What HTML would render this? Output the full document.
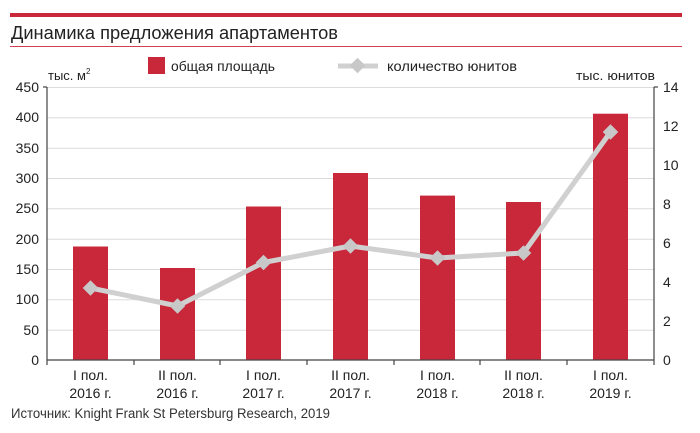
<!DOCTYPE html>
<html><head><meta charset="utf-8"><style>
body{margin:0;background:#fff;width:700px;height:428px;overflow:hidden;font-family:"Liberation Sans","DejaVu Sans",sans-serif;}
</style></head><body>
<svg width="700" height="428" xmlns="http://www.w3.org/2000/svg" font-family="Liberation Sans, DejaVu Sans, sans-serif">
<rect x="10" y="13" width="672" height="4" fill="#c8283a"/>
<text x="11" y="39" font-size="18.5" fill="#222" textLength="327" lengthAdjust="spacingAndGlyphs">Динамика предложения апартаментов</text>
<rect x="10" y="46" width="672" height="1" fill="#d04050"/>
<rect x="148" y="57" width="17" height="17" fill="#c8283a"/>
<text x="171" y="71" font-size="14" fill="#222" textLength="104" lengthAdjust="spacingAndGlyphs">общая площадь</text>
<line x1="338" y1="66" x2="378" y2="66" stroke="#d0d0d0" stroke-width="5"/>
<rect x="352" y="60" width="11" height="11" fill="#c8c8c8" transform="rotate(45 357.5 65.5)"/>
<text x="387" y="71" font-size="14" fill="#222" textLength="130" lengthAdjust="spacingAndGlyphs">количество юнитов</text>
<text x="48" y="80" font-size="13" fill="#222">тыс. м<tspan font-size="8" dy="-6">2</tspan></text>
<text x="576" y="80" font-size="13" fill="#222" textLength="79" lengthAdjust="spacingAndGlyphs">тыс. юнитов</text>
<g stroke="#dcdcdc" stroke-width="1">
<line x1="47" y1="87.5" x2="654" y2="87.5"/><line x1="47" y1="117.8" x2="654" y2="117.8"/><line x1="47" y1="148.2" x2="654" y2="148.2"/><line x1="47" y1="178.5" x2="654" y2="178.5"/><line x1="47" y1="208.8" x2="654" y2="208.8"/><line x1="47" y1="239.2" x2="654" y2="239.2"/><line x1="47" y1="269.5" x2="654" y2="269.5"/><line x1="47" y1="299.8" x2="654" y2="299.8"/><line x1="47" y1="330.2" x2="654" y2="330.2"/>
</g>
<g fill="#c8283a">
<rect x="73" y="246.5" width="35" height="113.5"/>
<rect x="160" y="268" width="35" height="92"/>
<rect x="246" y="206.5" width="35" height="153.5"/>
<rect x="333" y="173" width="35" height="187"/>
<rect x="420" y="195.6" width="35" height="164.4"/>
<rect x="506" y="202" width="35" height="158"/>
<rect x="593" y="113.7" width="35" height="246.3"/>
</g>
<g stroke="#444" stroke-width="1.2" fill="none">
<line x1="47" y1="87" x2="47" y2="360"/><line x1="654" y1="87" x2="654" y2="360"/>
<line x1="47" y1="360" x2="654" y2="360"/>
<line x1="43" y1="87" x2="47" y2="87"/><line x1="654" y1="87" x2="658" y2="87"/>
<line x1="47" y1="360" x2="47" y2="365"/><line x1="134" y1="360" x2="134" y2="365"/><line x1="220" y1="360" x2="220" y2="365"/><line x1="307" y1="360" x2="307" y2="365"/><line x1="394" y1="360" x2="394" y2="365"/><line x1="480" y1="360" x2="480" y2="365"/><line x1="567" y1="360" x2="567" y2="365"/><line x1="654" y1="360" x2="654" y2="365"/>
</g>
<polyline points="90.5,288 177.5,306 263.5,262.5 350.5,246 437.5,258 523.5,253 610.5,132" fill="none" stroke="#d0d0d0" stroke-width="5" stroke-linejoin="round"/>
<g fill="#c8c8c8">
<rect x="85" y="282.5" width="11" height="11" transform="rotate(45 90.5 288)"/>
<rect x="172" y="300.5" width="11" height="11" transform="rotate(45 177.5 306)"/>
<rect x="258" y="257" width="11" height="11" transform="rotate(45 263.5 262.5)"/>
<rect x="345" y="240.5" width="11" height="11" transform="rotate(45 350.5 246)"/>
<rect x="432" y="252.5" width="11" height="11" transform="rotate(45 437.5 258)"/>
<rect x="518" y="247.5" width="11" height="11" transform="rotate(45 523.5 253)"/>
<rect x="605" y="126.5" width="11" height="11" transform="rotate(45 610.5 132)"/>
</g>
<g font-size="14" fill="#222" text-anchor="end">
<text x="39" y="92">450</text><text x="39" y="122">400</text><text x="39" y="153">350</text><text x="39" y="183">300</text><text x="39" y="213">250</text><text x="39" y="244">200</text><text x="39" y="274">150</text><text x="39" y="304">100</text><text x="39" y="335">50</text><text x="39" y="365">0</text>
</g>
<g font-size="14" fill="#222">
<text x="663" y="92">14</text><text x="663" y="131">12</text><text x="663" y="170">10</text><text x="663" y="209">8</text><text x="663" y="248">6</text><text x="663" y="287">4</text><text x="663" y="326">2</text><text x="663" y="365">0</text>
</g>
<g font-size="14" fill="#222" text-anchor="middle">
<text x="90.5" y="380">I пол.</text><text x="90.5" y="398">2016 г.</text>
<text x="177.5" y="380">II пол.</text><text x="177.5" y="398">2016 г.</text>
<text x="263.5" y="380">I пол.</text><text x="263.5" y="398">2017 г.</text>
<text x="350.5" y="380">II пол.</text><text x="350.5" y="398">2017 г.</text>
<text x="437.5" y="380">I пол.</text><text x="437.5" y="398">2018 г.</text>
<text x="523.5" y="380">II пол.</text><text x="523.5" y="398">2018 г.</text>
<text x="610.5" y="380">I пол.</text><text x="610.5" y="398">2019 г.</text>
</g>
<text x="11" y="418" font-size="13.5" fill="#333" textLength="319" lengthAdjust="spacingAndGlyphs">Источник: Knight Frank St Petersburg Research, 2019</text>
</svg>
</body></html>
